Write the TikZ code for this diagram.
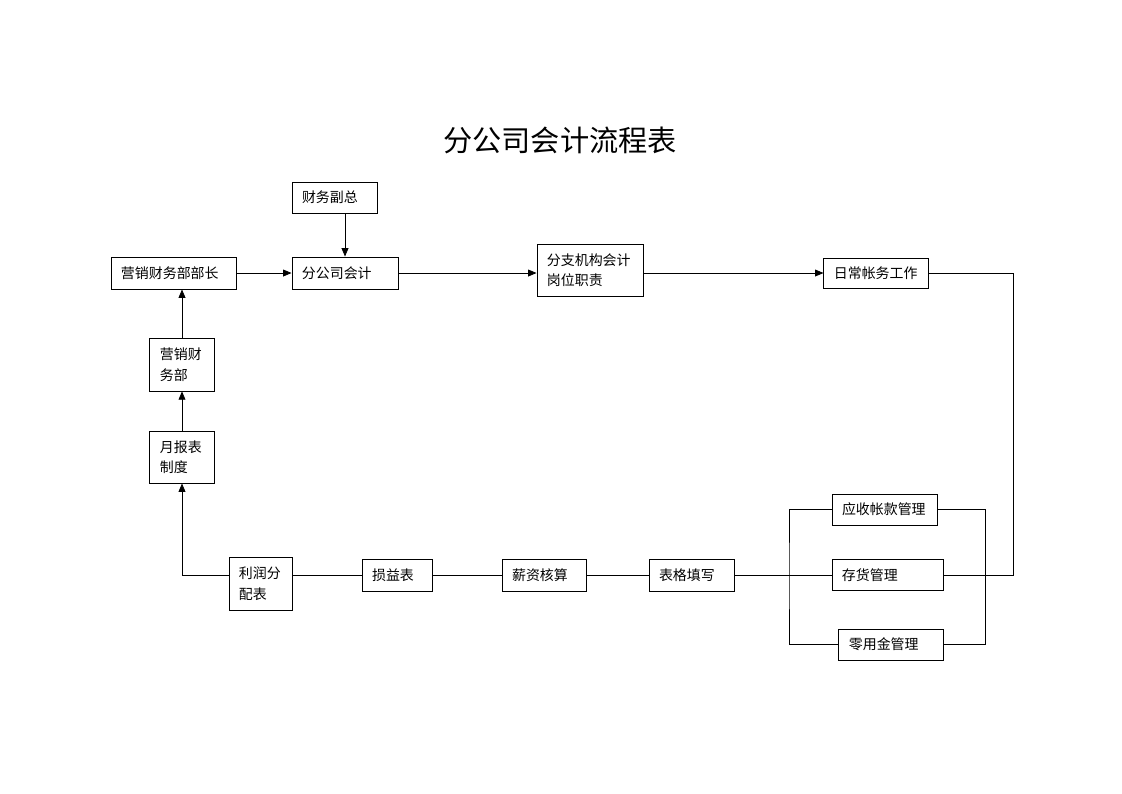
\documentclass[tikz,border=0pt]{standalone}
\usepackage{fontspec}
\setmainfont{Noto Sans CJK SC}
\usetikzlibrary{arrows.meta}
\tikzset{flow/.style={x=0.02647cm,y=-0.02647cm,line width=0.6pt,font=\fontsize{10.5}{15.5}\selectfont}}
\tikzset{flowbox/.style 2 args={draw,align=left,inner xsep=0.265cm,inner ysep=0pt,text width=#1,minimum height=#2},
         arr/.style={-{Triangle[length=2.2mm,width=1.8mm]}}}

\begin{document}
\begin{tikzpicture}[flow]
    \useasboundingbox (0,0) rectangle (1122,793);
    \node[font=\fontsize{22}{26}\selectfont] (title) at (560,140) {分公司会计流程表};
    % top row
    \node[flowbox={1.72cm}{0.82cm}] (vp)     at (334.5,197.5) {财务副总};
    \node[flowbox={2.78cm}{0.85cm}] (head)   at (173.5,273) {营销财务部部长};
    \node[flowbox={2.28cm}{0.85cm}] (acct)   at (345,273) {分公司会计};
    \node[flowbox={2.28cm}{1.38cm}] (branch) at (590,270) {分支机构会计\\岗位职责};
    \node[flowbox={2.23cm}{0.80cm}] (daily)  at (876,273) {日常帐务工作};
    % left column
    \node[flowbox={1.17cm}{1.40cm}] (mkt)    at (182,364.5) {营销财\\务部};
    \node[flowbox={1.17cm}{1.38cm}] (report) at (182,457) {月报表\\制度};
    % bottom row
    \node[flowbox={1.14cm}{1.40cm}] (profit) at (260.5,583.5) {利润分\\配表};
    \node[flowbox={1.32cm}{0.85cm}] (pl)     at (397,575) {损益表};
    \node[flowbox={1.69cm}{0.85cm}] (salary) at (544,575) {薪资核算};
    \node[flowbox={1.72cm}{0.85cm}] (form)   at (691.5,575) {表格填写};
    % right group
    \node[flowbox={2.25cm}{0.82cm}] (ar)     at (884.5,509.5) {应收帐款管理};
    \node[flowbox={2.41cm}{0.82cm}] (stock)  at (887.5,575) {存货管理};
    \node[flowbox={2.23cm}{0.82cm}] (petty)  at (891,644.5) {零用金管理};
    \coordinate (bl) at (789,575);
    \coordinate (br) at (985,575);
    \coordinate (rc) at (1013,575);
    % connectors
    \draw[arr] (acct.north |- vp.south) -- (acct.north);
    \draw[arr] (head) -- (acct);
    \draw[arr] (acct.east) -- (acct.east -| branch.west);
    \draw[arr] (branch.east |- daily) -- (daily.west);
    \draw (daily.east) -| (rc) -- (stock.east);
    \draw (ar.west) -| (bl) |- (petty.west);
    \draw (ar.east) -| (br) |- (petty.east);
    \draw (form) -- (stock);
    \draw (salary) -- (form);
    \draw (pl) -- (salary);
    \draw (profit.east |- pl) -- (pl);
    \draw[arr] (profit.west |- pl) -| (report.south);
    \draw[arr] (report) -- (mkt);
    \draw[arr] (mkt.north) -- (mkt.north |- head.south);
\end{tikzpicture}
\end{document}
